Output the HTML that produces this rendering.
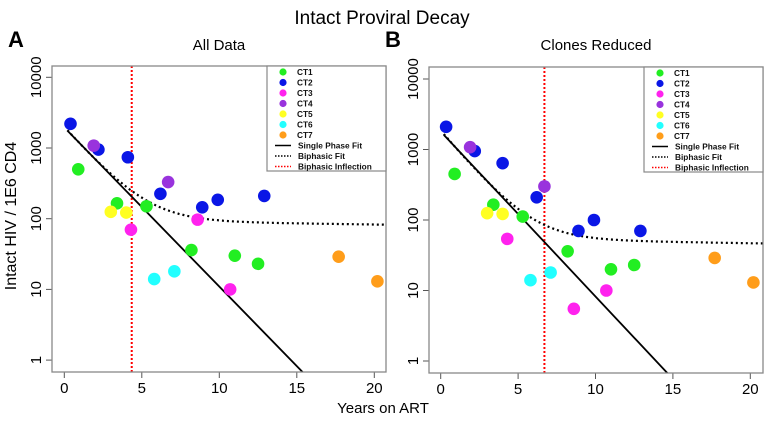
<!DOCTYPE html>
<html><head><meta charset="utf-8"><style>
body{margin:0;background:#fff;}
svg text{font-family:"Liberation Sans",Arial,sans-serif;}
</style></head><body>
<svg id="chart" width="764" height="419" xmlns="http://www.w3.org/2000/svg">
<text x="382" y="24" font-size="19" text-anchor="middle">Intact Proviral Decay</text>
<text x="383" y="413" font-size="15" text-anchor="middle">Years on ART</text>
<text transform="translate(16,216) rotate(-90)" font-size="16" text-anchor="middle">Intact HIV / 1E6 CD4</text>
<g id="pA"></g>
<g id="pB"></g>
</svg>
<script>
const groups=["CT1","CT2","CT3","CT4","CT5","CT6","CT7"];
const colors=["#22ee22","#0a16e6","#ff22ee","#9933dd","#ffff22","#22ffff","#ff9d1a"];
const xTicks=[0,5,10,15,20];
const yTicks=[1,10,100,1000,10000];
const legendLabels=["Single Phase Fit","Biphasic Fit","Biphasic Inflection"];
// Panel A data [years, value] per group
const a_CT1=[[0.9,500],[3.4,165],[5.3,150],[8.2,36],[11,30],[12.5,23]];
const a_CT2=[[0.4,2200],[2.2,950],[4.1,740],[6.2,225],[8.9,145],[9.9,185],[12.9,210]];
const a_CT3=[[4.3,70],[8.6,97],[10.7,10]];
const a_CT4=[[1.9,1080],[6.7,330]];
const a_CT5=[[3.0,125],[4.0,122]];
const a_CT6=[[5.8,14],[7.1,18]];
const a_CT7=[[17.7,29],[20.2,13]];
const a_single=[3.29,0.225]; // log10 intercept, slope per year
const a_bi=[1900,0.25,95,0.003]; // A,k1,B,k2 (log10 rates)
const a_inflect=4.35;
// Panel B data
const b_CT1=[[0.9,450],[3.4,165],[5.3,112],[8.2,36],[11,20],[12.5,23]];
const b_CT2=[[0.35,2100],[2.2,950],[4.0,640],[6.2,210],[8.9,70],[9.9,100],[12.9,70]];
const b_CT3=[[4.3,54],[8.6,5.5],[10.7,10]];
const b_CT4=[[1.9,1080],[6.7,300]];
const b_CT5=[[3.0,125],[4.0,122]];
const b_CT6=[[5.8,14],[7.1,18]];
const b_CT7=[[17.7,29],[20.2,13]];
const b_single=[3.255,0.234];
const b_bi=[1800,0.259,55,0.0035];
const b_inflect=6.7;

const NS="http://www.w3.org/2000/svg";
function mk(p,tag,at){const e=document.createElementNS(NS,tag);for(const k in at)e.setAttribute(k,at[k]);p.appendChild(e);return e;}

function panel(g,cfg){
  const X=v=>cfg.x0+v*cfg.xs, Y=v=>cfg.y10k+(4-Math.log10(v))*cfg.ys;
  let t=mk(g,"text",{x:cfg.lx,y:47,"font-size":22,"font-weight":"bold"});t.textContent=cfg.letter;
  
  
  t=mk(g,"text",{x:cfg.tx,y:50,"font-size":15,"text-anchor":"middle"});t.textContent=cfg.title;
  
  
  const clip="c"+cfg.letter;
  const cp=mk(g,"clipPath",{id:clip});mk(cp,"rect",{x:cfg.bx,y:cfg.by,width:cfg.bw,height:cfg.bh});
  xTicks.forEach(v=>{
    mk(g,"line",{x1:X(v),x2:X(v),y1:cfg.by+cfg.bh,y2:cfg.by+cfg.bh+6,stroke:"#555"});
    const l=mk(g,"text",{x:X(v),y:cfg.by+cfg.bh+21,"font-size":15,"text-anchor":"middle"});l.textContent=v;
    
    
  });
  yTicks.forEach(v=>{
    mk(g,"line",{x1:cfg.bx-6,x2:cfg.bx,y1:Y(v),y2:Y(v),stroke:"#555"});
    const l=mk(g,"text",{transform:`translate(${cfg.bx-11},${Y(v)}) rotate(-90)`,"font-size":15,"text-anchor":"middle"});l.textContent=v;
    
    
  });
  const cg=mk(g,"g",{"clip-path":`url(#${clip})`});
  const inf=mk(cg,"line",{x1:X(cfg.inflect),x2:X(cfg.inflect),y1:cfg.by,y2:cfg.by+cfg.bh,stroke:"#ff0000","stroke-width":2,"stroke-dasharray":"2,2"});
  
  
  const s=cfg.single;
  const sl=mk(cg,"line",{x1:X(0.2),y1:Y(Math.pow(10,s[0]-s[1]*0.2)),x2:X(17),y2:Y(Math.pow(10,s[0]-s[1]*17)),stroke:"#000","stroke-width":1.8});
  
  
  const b=cfg.bi;let d="";
  for(let x=0.2;x<=21;x+=0.1){const v=b[0]*Math.pow(10,-b[1]*x)+b[2]*Math.pow(10,-b[3]*x);d+=(d?"L":"M")+X(x).toFixed(1)+","+Y(v).toFixed(1);}
  const bp=mk(cg,"path",{d:d,fill:"none",stroke:"#000","stroke-width":2.2,"stroke-dasharray":"2,3"});
  
  
  groups.forEach((gname,i)=>{cfg.data[i].forEach(p=>{
    const c=mk(cg,"circle",{cx:X(p[0]),cy:Y(p[1]),r:6.3,fill:colors[i]});
    
    
  });});
  const box=mk(g,"rect",{x:cfg.bx,y:cfg.by,width:cfg.bw,height:cfg.bh,fill:"none",stroke:"#888","stroke-width":1.3});
  
  
  const lg=mk(g,"g",{});
  
  
  mk(lg,"rect",{x:cfg.lgx,y:cfg.by,width:cfg.bx+cfg.bw-cfg.lgx,height:105,fill:"#fff",stroke:"#888","stroke-width":1.2});
  const labs=groups.concat(legendLabels);
  labs.forEach((lab,i)=>{
    const yy=cfg.by+6+i*10.5;
    if(i<7) mk(lg,"circle",{cx:cfg.lgx+16,cy:yy,r:3.6,fill:colors[i]});
    else if(i===7) mk(lg,"line",{x1:cfg.lgx+8,x2:cfg.lgx+24,y1:yy,y2:yy,stroke:"#000","stroke-width":1.5});
    else mk(lg,"line",{x1:cfg.lgx+8,x2:cfg.lgx+24,y1:yy,y2:yy,stroke:i===8?"#000":"#ff0000","stroke-width":1.5,"stroke-dasharray":"1.5,1.5"});
    const tt=mk(lg,"text",{x:i<7?cfg.lgx+30:cfg.lgx+31,y:yy+3,"font-size":8.3,"font-weight":"bold",fill:"#111"});tt.textContent=lab;
    
    
  });
}
panel(document.getElementById("pA"),{letter:"A",title:"All Data",lx:8,tx:219,bx:52,by:66,bw:334,bh:306,x0:64.3,xs:15.5,y10k:77.3,ys:70.7,lgx:267,
  data:[a_CT1,a_CT2,a_CT3,a_CT4,a_CT5,a_CT6,a_CT7],single:a_single,bi:a_bi,inflect:a_inflect});
panel(document.getElementById("pB"),{letter:"B",title:"Clones Reduced",lx:385,tx:596,bx:429,by:67,bw:334,bh:306,x0:440.7,xs:15.48,y10k:79,ys:70.5,lgx:644,
  data:[b_CT1,b_CT2,b_CT3,b_CT4,b_CT5,b_CT6,b_CT7],single:b_single,bi:b_bi,inflect:b_inflect});
</script>
</body></html>
